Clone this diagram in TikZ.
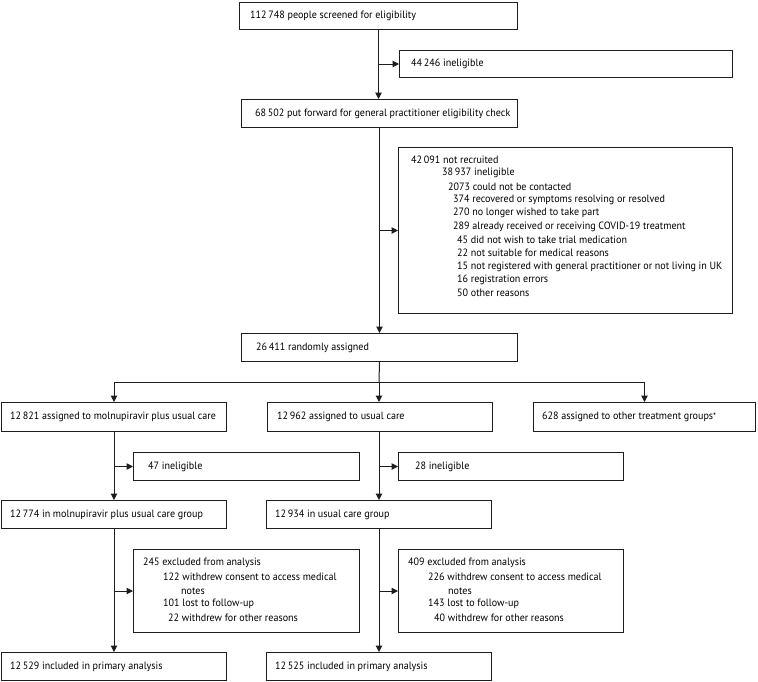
\documentclass[tikz,border=0pt]{standalone}
\usepackage{fontspec}
\setmainfont{PT Sans}[FakeStretch=0.95]
\usetikzlibrary{arrows.meta}
\definecolor{ink}{RGB}{30,28,29}
\begin{document}
\begin{tikzpicture}[x=1pt,y=-1pt,
  box/.style={draw=ink, line width=1pt, anchor=north west, inner sep=0pt},
  lbl/.style={anchor=west, inner sep=0pt, text=black, font=\fontsize{10.6}{12}\selectfont},
  ln/.style={draw=ink, line width=1pt},
  arr/.style={draw=ink, line width=1pt, -{Triangle[length=6.5pt,width=6.5pt]}}]
\useasboundingbox (0,0) rectangle (758,681);

% top part
\node[box, minimum width=278pt, minimum height=27pt] (s) at (239,2) {};
\node[lbl] (st) at ([xshift=11pt]s.west) {112\,748 people screened for eligibility};
\node[box, minimum width=333pt, minimum height=27pt] (i1) at (399,50) {};
\node[lbl] (i1t) at ([xshift=12pt]i1.west) {44\,246 ineligible};
\node[box, minimum width=276pt, minimum height=28pt] (p) at (241,99) {};
\node[lbl] (pt) at ([xshift=14pt]p.west) {68\,502 put forward for general practitioner eligibility check};

% big exclusion box
\node[box, minimum width=334pt, minimum height=166pt] (big) at (398,147) {};
\node[lbl] (g1) at (411,160.0) {42\,091 not recruited};
\node[lbl] (g2) at (442,173.3) {38\,937 ineligible};
\node[lbl] (g3) at (448,186.6) {2073 could not be contacted};
\node[lbl] (g4) at (453,199.9) {374 recovered or symptoms resolving or resolved};
\node[lbl] (g5) at (453,213.2) {270 no longer wished to take part};
\node[lbl] (g6) at (453,226.5) {289 already received or receiving COVID-19 treatment};
\node[lbl] (g7) at (457,239.8) {45 did not wish to take trial medication};
\node[lbl] (g8) at (457,253.1) {22 not suitable for medical reasons};
\node[lbl] (g9) at (457,266.4) {15 not registered with general practitioner or not living in UK};
\node[lbl] (g10) at (457,279.7) {16 registration errors};
\node[lbl] (g11) at (457,293.0) {50 other reasons};

% randomised
\node[box, minimum width=276pt, minimum height=28pt] (r) at (241,333) {};
\node[lbl] (rt) at ([xshift=15pt]r.west) {26\,411 randomly assigned};

% allocation row
\node[box, minimum width=225pt, minimum height=29pt] (A) at (1,402) {};
\node[lbl] (At) at ([xshift=9pt]A.west) {12\,821 assigned to molnupiravir plus usual care};
\node[box, minimum width=225pt, minimum height=29pt] (B) at (267,402) {};
\node[lbl] (Bt) at ([xshift=10pt]B.west) {12\,962 assigned to usual care};
\node[box, minimum width=222pt, minimum height=29pt] (C) at (533,402) {};
\node[lbl] (Ct) at ([xshift=9pt]C.west) {628 assigned to other treatment groups\raisebox{0.05em}{\fontsize{9}{9}\selectfont *}};

% ineligible after allocation
\node[box, minimum width=226pt, minimum height=28pt] (e1) at (133,452) {};
\node[lbl] (e1t) at ([xshift=15pt]e1.west) {47 ineligible};
\node[box, minimum width=225pt, minimum height=28pt] (e2) at (398,452) {};
\node[lbl] (e2t) at ([xshift=17pt]e2.west) {28 ineligible};

% groups
\node[box, minimum width=225pt, minimum height=28pt] (M1) at (1,500) {};
\node[lbl] (M1t) at ([xshift=9pt]M1.west) {12\,774 in molnupiravir plus usual care group};
\node[box, minimum width=225pt, minimum height=28pt] (M2) at (266,500) {};
\node[lbl] (M2t) at ([xshift=9pt]M2.west) {12\,934 in usual care group};

% excluded from analysis
\node[box, minimum width=226pt, minimum height=83pt] (x1) at (133,549) {};
\node[lbl] (x1a) at (143,563) {245 excluded from analysis};
\node[lbl] (x1b) at (163,577) {122 withdrew consent to access medical};
\node[lbl] (x1c) at (181,591) {notes};
\node[lbl] (x1d) at (163,604) {101 lost to follow-up};
\node[lbl] (x1e) at (168,618) {22 withdrew for other reasons};
\node[box, minimum width=225pt, minimum height=83pt] (x2) at (398,549) {};
\node[lbl] (x2a) at (408,563) {409 excluded from analysis};
\node[lbl] (x2b) at (428,577) {226 withdrew consent to access medical};
\node[lbl] (x2c) at (448,591) {notes};
\node[lbl] (x2d) at (428,604) {143 lost to follow-up};
\node[lbl] (x2e) at (434,618) {40 withdrew for other reasons};

% primary analysis
\node[box, minimum width=225pt, minimum height=28pt] (F1) at (1,652) {};
\node[lbl] (F1t) at ([xshift=9pt]F1.west) {12\,529 included in primary analysis};
\node[box, minimum width=225pt, minimum height=28pt] (F2) at (266,652) {};
\node[lbl] (F2t) at ([xshift=9pt]F2.west) {12\,525 included in primary analysis};

% connectors top
\draw[arr] (s.south) -- (s.south |- p.north);
\draw[arr] (s.south |- i1.west) -- (i1.west);
\draw[arr] (p.south) -- (p.south |- r.north);
\draw[arr] (p.south |- big.west) -- (big.west);

% split
\coordinate (split) at (379,382);
\draw[ln] (r.south) -- (split);
\draw[ln] (A.north |- split) -- (C.north |- split);
\draw[arr] (A.north |- split) -- (A.north);
\draw[arr] (split) -- (split |- B.north);
\draw[arr] (C.north |- split) -- (C.north);

% left column
\draw[arr] (A.south) -- (A.south |- M1.north);
\draw[arr] (A.south |- e1.west) -- (e1.west);
\draw[arr] (A.south |- M1.south) -- (A.south |- F1.north);
\draw[arr] (A.south |- x1.west) -- (x1.west);

% middle column
\draw[arr] (split |- B.south) -- (split |- M2.north);
\draw[arr] (split |- e2.west) -- (e2.west);
\draw[arr] (split |- M2.south) -- (split |- F2.north);
\draw[arr] (split |- x2.west) -- (x2.west);
\end{tikzpicture}
\end{document}
